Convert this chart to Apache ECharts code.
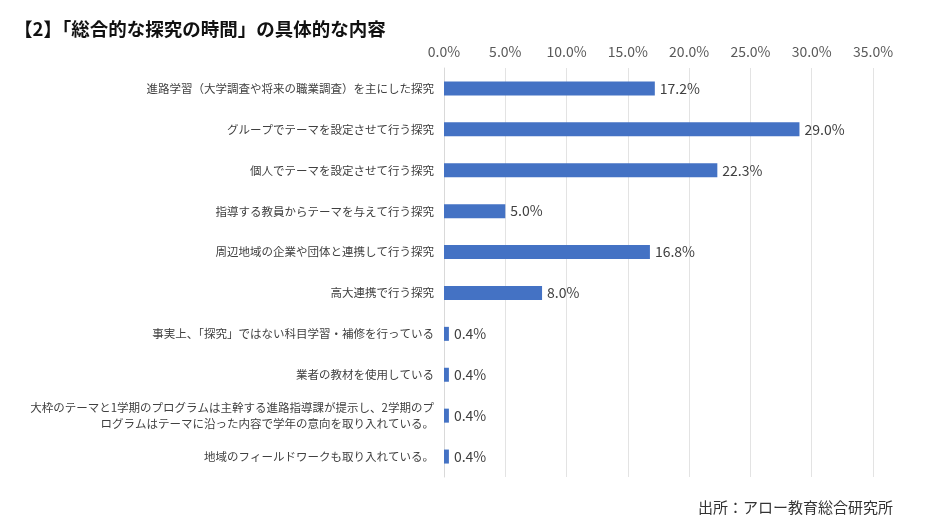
<!DOCTYPE html>
<html><head><meta charset="utf-8">
<script src="https://cdn.jsdelivr.net/npm/echarts@6/dist/echarts.min.js"></script>
<style>html,body{margin:0;padding:0;background:#fff}#c{width:934px;height:532px}</style>
</head><body><div id="c"></div>
<script>
const titleText = '【2】「総合的な探究の時間」の具体的な内容';
const sourceText = '出所：アロー教育総合研究所';
const categories = [
  '進路学習（大学調査や将来の職業調査）を主にした探究',
  'グループでテーマを設定させて行う探究',
  '個人でテーマを設定させて行う探究',
  '指導する教員からテーマを与えて行う探究',
  '周辺地域の企業や団体と連携して行う探究',
  '高大連携で行う探究',
  '事実上、「探究」ではない科目学習・補修を行っている',
  '業者の教材を使用している',
  '大枠のテーマと1学期のプログラムは主幹する進路指導課が提示し、2学期のプ\nログラムはテーマに沿った内容で学年の意向を取り入れている。',
  '地域のフィールドワークも取り入れている。'
];
const values = [17.2, 29.0, 22.3, 5.0, 16.8, 8.0, 0.4, 0.4, 0.4, 0.4];
const axisMin = 0, axisMax = 35, axisInterval = 5;

const font = '"Noto Sans CJK JP", "Noto Sans", sans-serif';
const chart = echarts.init(document.getElementById('c'));
chart.setOption({
  backgroundColor: '#fff',
  animation: false,
  textStyle: { fontFamily: font },
  title: [
    { text: titleText, left: 9, top: 15, textStyle: { fontFamily: font, fontSize: 18.5, fontWeight: 'bold', color: '#111' } },
    { text: sourceText, left: 693, top: 495, textStyle: { fontFamily: font, fontSize: 15, fontWeight: 'normal', color: '#333' } }
  ],
  grid: { left: 444, right: 61, top: 68, bottom: 55, containLabel: false },
  xAxis: {
    type: 'value', position: 'top', min: axisMin, max: axisMax, interval: axisInterval,
    axisLine: { show: false }, axisTick: { show: false },
    axisLabel: { formatter: v => v.toFixed(1) + '%', color: '#595959', fontSize: 14, margin: 9 },
    splitLine: { lineStyle: { color: '#e3e3e3', width: 1 } }
  },
  yAxis: {
    type: 'category', inverse: true, data: categories,
    axisLine: { lineStyle: { color: '#d9d9d9' } }, axisTick: { show: false },
    axisLabel: { color: '#404040', fontSize: 11.5, margin: 10, align: 'right', lineHeight: 16 }
  },
  series: [{
    type: 'bar', data: values, barWidth: 14,
    itemStyle: { color: '#4472C4' },
    label: { show: true, position: 'right', distance: 5, formatter: p => p.value.toFixed(1) + '%', color: '#404040', fontSize: 14 }
  }]
});
</script></body></html>
